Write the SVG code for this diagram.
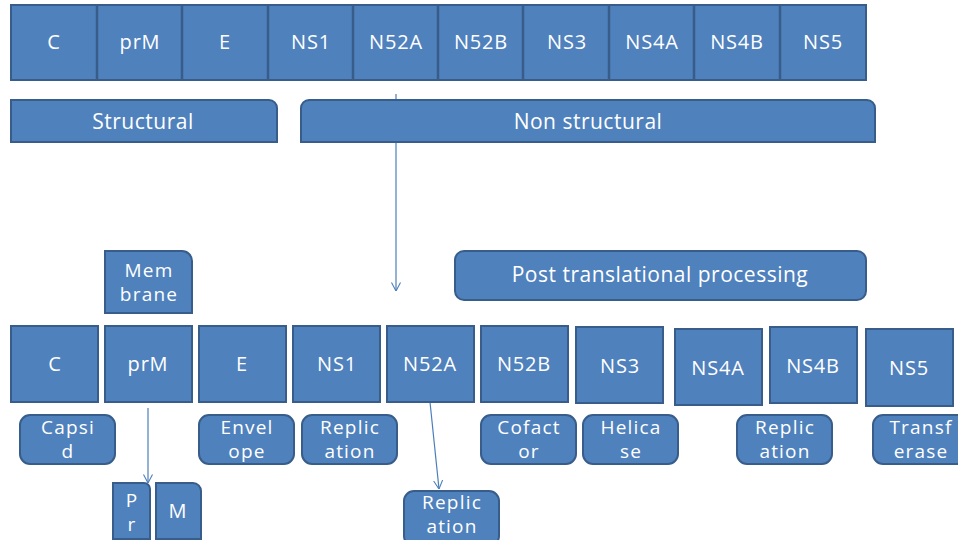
<svg xmlns="http://www.w3.org/2000/svg" width="958" height="540" viewBox="0 0 958 540">
<defs>
<style>
.b{fill:#4F81BD;stroke:#385D8A;stroke-width:2}
.t{fill:#fff;font-family:"Open Sans","Liberation Sans",sans-serif;font-size:20px;letter-spacing:0.8px;text-anchor:middle}
.w{fill:#fff;font-family:"Open Sans","Liberation Sans",sans-serif;font-size:19px;letter-spacing:1.2px;text-anchor:middle}
.l{fill:#fff;font-family:"Open Sans","Liberation Sans",sans-serif;font-size:21px;letter-spacing:0.5px;text-anchor:middle}
.c{stroke:#4A7EBB;stroke-width:1.2;fill:none}
</style>
<marker id="ah" viewBox="0 0 10 10" refX="9.5" refY="5" markerWidth="9" markerHeight="11" markerUnits="userSpaceOnUse" orient="auto">
<path d="M0,0 L9.5,5 L0,10" fill="none" stroke="#4A7EBB" stroke-width="1.2"/>
</marker>
</defs>
<rect width="958" height="540" fill="#fff"/>
<g id="connectors">
<line class="c" x1="396" y1="94" x2="396" y2="291" marker-end="url(#ah)"/>
<line class="c" x1="148" y1="408" x2="148" y2="483" marker-end="url(#ah)"/>
<line class="c" x1="430" y1="402" x2="439" y2="489" marker-end="url(#ah)"/>
</g>
<g id="polyprotein">
<rect class="b" x="11" y="5" width="855" height="75"/>
<path d="M97,5V80M182,5V80M268,5V80M353,5V80M438,5V80M523,5V80M609,5V80M694,5V80M780,5V80" stroke="#385D8A" stroke-width="2.5"/>
<text class="t" x="54" y="49">C</text>
<text class="t" x="140" y="49">prM</text>
<text class="t" x="225" y="49">E</text>
<text class="t" x="311" y="49">NS1</text>
<text class="t" x="396" y="49">N52A</text>
<text class="t" x="481" y="49">N52B</text>
<text class="t" x="567" y="49">NS3</text>
<text class="t" x="652" y="49">NS4A</text>
<text class="t" x="737" y="49">NS4B</text>
<text class="t" x="823" y="49">NS5</text>
</g>
<g id="structural">
<path class="b" d="M11,100H269A8,8 0 0 1 277,108V142H11Z"/>
<text class="l" x="143" y="129">Structural</text>
</g>
<g id="nonstructural">
<path class="b" d="M301,108A8,8 0 0 1 309,100H867A8,8 0 0 1 875,108V142H301Z"/>
<text class="l" x="588" y="129">Non structural</text>
</g>
<g id="membrane">
<path class="b" d="M105,251H182A10,10 0 0 1 192,261V313H105Z"/>
<text class="w" x="149" y="277">Mem</text>
<text class="w" x="149" y="301">brane</text>
</g>
<g id="ptp">
<rect class="b" x="455" y="251" width="411" height="49" rx="9"/>
<text class="l" x="660" y="282">Post translational processing</text>
</g>
<g id="C"><rect class="b" x="11" y="326" width="87" height="76"/><text class="t" x="55" y="371">C</text></g>
<g id="prM"><rect class="b" x="105" y="326" width="87" height="76"/><text class="t" x="148" y="371">prM</text></g>
<g id="E"><rect class="b" x="199" y="326" width="87" height="76"/><text class="t" x="242" y="371">E</text></g>
<g id="NS1"><rect class="b" x="293" y="326" width="87" height="76"/><text class="t" x="337" y="371">NS1</text></g>
<g id="N52A"><rect class="b" x="387" y="326" width="87" height="76"/><text class="t" x="430" y="371">N52A</text></g>
<g id="N52B"><rect class="b" x="481" y="326" width="87" height="76"/><text class="t" x="524" y="371">N52B</text></g>
<g id="NS3"><rect class="b" x="576" y="327" width="87" height="76"/><text class="t" x="620" y="373">NS3</text></g>
<g id="NS4A"><rect class="b" x="675" y="329" width="87" height="76"/><text class="t" x="718" y="375">NS4A</text></g>
<g id="NS4B"><rect class="b" x="770" y="327" width="87" height="76"/><text class="t" x="813" y="373">NS4B</text></g>
<g id="NS5"><rect class="b" x="866" y="329" width="87" height="77"/><text class="t" x="909" y="375">NS5</text></g>
<g id="capsid"><rect class="b" x="20" y="415" width="95" height="49" rx="10"/><text class="w" x="68" y="434">Capsi</text><text class="w" x="68" y="458">d</text></g>
<g id="envelope"><rect class="b" x="199" y="415" width="95" height="49" rx="10"/><text class="w" x="247" y="434">Envel</text><text class="w" x="247" y="458">ope</text></g>
<g id="replication1"><rect class="b" x="302" y="415" width="95" height="49" rx="10"/><text class="w" x="350" y="434">Replic</text><text class="w" x="350" y="458">ation</text></g>
<g id="cofactor"><rect class="b" x="481" y="415" width="95" height="49" rx="10"/><text class="w" x="529" y="434">Cofact</text><text class="w" x="529" y="458">or</text></g>
<g id="helicase"><rect class="b" x="583" y="415" width="95" height="49" rx="10"/><text class="w" x="631" y="434">Helica</text><text class="w" x="631" y="458">se</text></g>
<g id="replication2"><rect class="b" x="737" y="415" width="95" height="49" rx="10"/><text class="w" x="785" y="434">Replic</text><text class="w" x="785" y="458">ation</text></g>
<g id="transferase"><rect class="b" x="873" y="415" width="95" height="49" rx="10"/><text class="w" x="921" y="434">Transf</text><text class="w" x="921" y="458">erase</text></g>
<g id="Pr"><path class="b" d="M113,483H144A6,6 0 0 1 150,489V539H113Z"/><text class="w" x="132" y="507">P</text><text class="w" x="132" y="531">r</text></g>
<g id="M"><path class="b" d="M156,483H193A8,8 0 0 1 201,491V539H156Z"/><text class="t" x="178" y="518">M</text></g>
<g id="replication3"><rect class="b" x="404" y="491" width="95" height="55" rx="10"/><text class="w" x="452" y="509">Replic</text><text class="w" x="452" y="533">ation</text></g>
</svg>
